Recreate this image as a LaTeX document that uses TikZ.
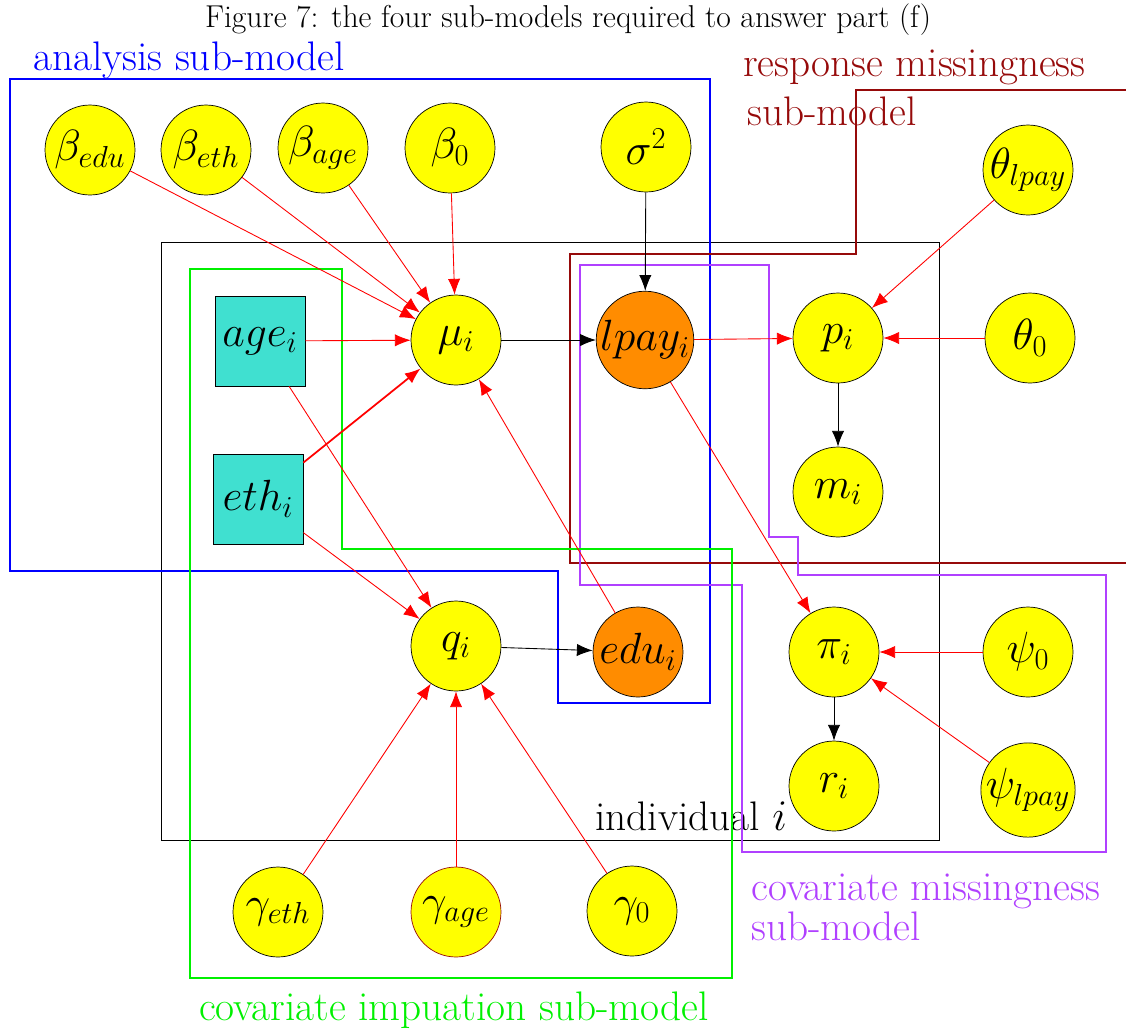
\documentclass[tikz,border=0pt]{standalone}
\usetikzlibrary{arrows.meta}
\definecolor{turq}{RGB}{64,224,208}
\definecolor{darkor}{RGB}{255,140,0}
\definecolor{respred}{RGB}{150,10,10}
\definecolor{covpurple}{RGB}{176,64,255}
\definecolor{impgreen}{RGB}{0,240,0}
\definecolor{paramyellow}{RGB}{255,255,0}
\begin{document}
\begin{tikzpicture}[x=0.02cm,y=-0.02cm,
  nodefont/.style={font=\fontsize{24}{28}\selectfont},
  param/.style={circle,draw=black,fill=paramyellow,minimum size=1.8cm,inner sep=0pt,nodefont},
  latent/.style={param,fill=darkor},
  obs/.style={rectangle,draw=black,fill=turq,minimum size=1.8cm,inner sep=0pt,nodefont},
  redarr/.style={draw=red,line width=0.5pt,-{Latex[length=9pt,width=7pt]}},
  blkarr/.style={draw=black,line width=0.5pt,-{Latex[length=9pt,width=7pt]}},
  submodel/.style={line width=0.9pt},
  boxlabel/.style={inner sep=0pt,font=\fontsize{23.5}{28}\selectfont}]

\useasboundingbox (0,0) rectangle (1126,1032);

% title
\node[inner sep=0pt,font=\fontsize{18}{21}\selectfont,anchor=base] (title) at (568,27)
  {Figure 7: the four sub-models required to answer part (f)};

% plate for individual i
\draw[line width=0.5pt] (161,242) rectangle (939,840);
\node[boxlabel,anchor=base west] (indiv) at (595,830) {individual $i$};

% sub-model outlines
\draw[submodel,blue] (10,79) -- (710,79) -- (710,703) -- (558,703) -- (558,571) -- (10,571) -- cycle;
\draw[submodel,respred] (1126,90) -- (856,90) -- (856,254) -- (570,254) -- (570,563) -- (1126,563);
\draw[submodel,covpurple] (580,265) -- (769,265) -- (769,537) -- (798,537) -- (798,575) -- (1106,575)
  -- (1106,852) -- (742,852) -- (742,585) -- (580,585) -- cycle;
\draw[submodel,impgreen] (190,269) -- (342,269) -- (342,549) -- (732,549) -- (732,978) -- (190,978) -- cycle;

% sub-model labels
\node[boxlabel,blue,anchor=base west] (lanalysis) at (33,70) {analysis sub-model};
\node[boxlabel,respred,anchor=base west] (lresptop) at (743,76) {response missingness};
\node[boxlabel,respred,anchor=base west] (lrespbot) at (747,125) {sub-model};
\node[boxlabel,covpurple,anchor=base west] (lcovtop) at (751,900) {covariate missingness};
\node[boxlabel,covpurple,anchor=base west] (lcovbot) at (751,940) {sub-model};
\node[boxlabel,impgreen,anchor=base] (limp) at (454,1020) {covariate impuation sub-model};

% parameter nodes
\node[param] (bedu) at (90,150) {$\beta_{edu}$};
\node[param] (beth) at (206,150) {$\beta_{eth}$};
\node[param] (bage) at (323,148) {$\beta_{age}$};
\node[param] (b0) at (450,148) {$\beta_0$};
\node[param] (sig) at (646,147) {$\sigma^2$};
\node[param] (thlpay) at (1028,170) {$\theta_{lpay}$};
\node[param] (th0) at (1030,338) {$\theta_0$};
\node[param] (psi0) at (1028,652) {$\psi_0$};
\node[param] (psilpay) at (1028,790) {$\psi_{lpay}$};
\node[param] (geth) at (278,912) {$\gamma_{eth}$};
\node[param,draw=respred] (gage) at (456,912) {$\gamma_{age}$};
\node[param] (g0) at (632,911) {$\gamma_0$};

% per-individual nodes
\node[obs] (age) at (260,341) {$age_i$};
\node[obs] (eth) at (258,499) {$eth_i$};
\node[param] (mu) at (456,340) {$\mu_i$};
\node[latent] (lpay) at (645,340) {$lpay_i$};
\node[param] (p) at (838,338) {$p_i$};
\node[param] (m) at (838,492) {$m_i$};
\node[param] (q) at (456,646) {$q_i$};
\node[latent] (edu) at (638,652) {$edu_i$};
\node[param] (pi) at (834,652) {$\pi_i$};
\node[param] (r) at (834,786) {$r_i$};

% analysis model edges
\draw[redarr] (bedu) -- (mu);
\draw[redarr] (beth) -- (mu);
\draw[redarr] (bage) -- (mu);
\draw[redarr] (b0) -- (mu);
\draw[redarr] (age) -- (mu);
\draw[redarr,line width=1pt] (eth) -- (mu);
\draw[redarr] (edu) -- (mu);
\draw[blkarr] (mu) -- (lpay);
\draw[blkarr] (sig) -- (lpay);

% response missingness edges
\draw[redarr] (lpay) -- (p);
\draw[redarr] (thlpay) -- (p);
\draw[redarr] (th0) -- (p);
\draw[blkarr] (p) -- (m);

% covariate missingness edges
\draw[redarr] (lpay) -- (pi);
\draw[redarr] (psi0) -- (pi);
\draw[redarr] (psilpay) -- (pi);
\draw[blkarr] (pi) -- (r);

% covariate imputation edges
\draw[redarr] (age) -- (q);
\draw[redarr] (eth) -- (q);
\draw[redarr] (geth) -- (q);
\draw[redarr] (gage) -- (q);
\draw[redarr] (g0) -- (q);
\draw[blkarr] (q) -- (edu);
\end{tikzpicture}
\end{document}
